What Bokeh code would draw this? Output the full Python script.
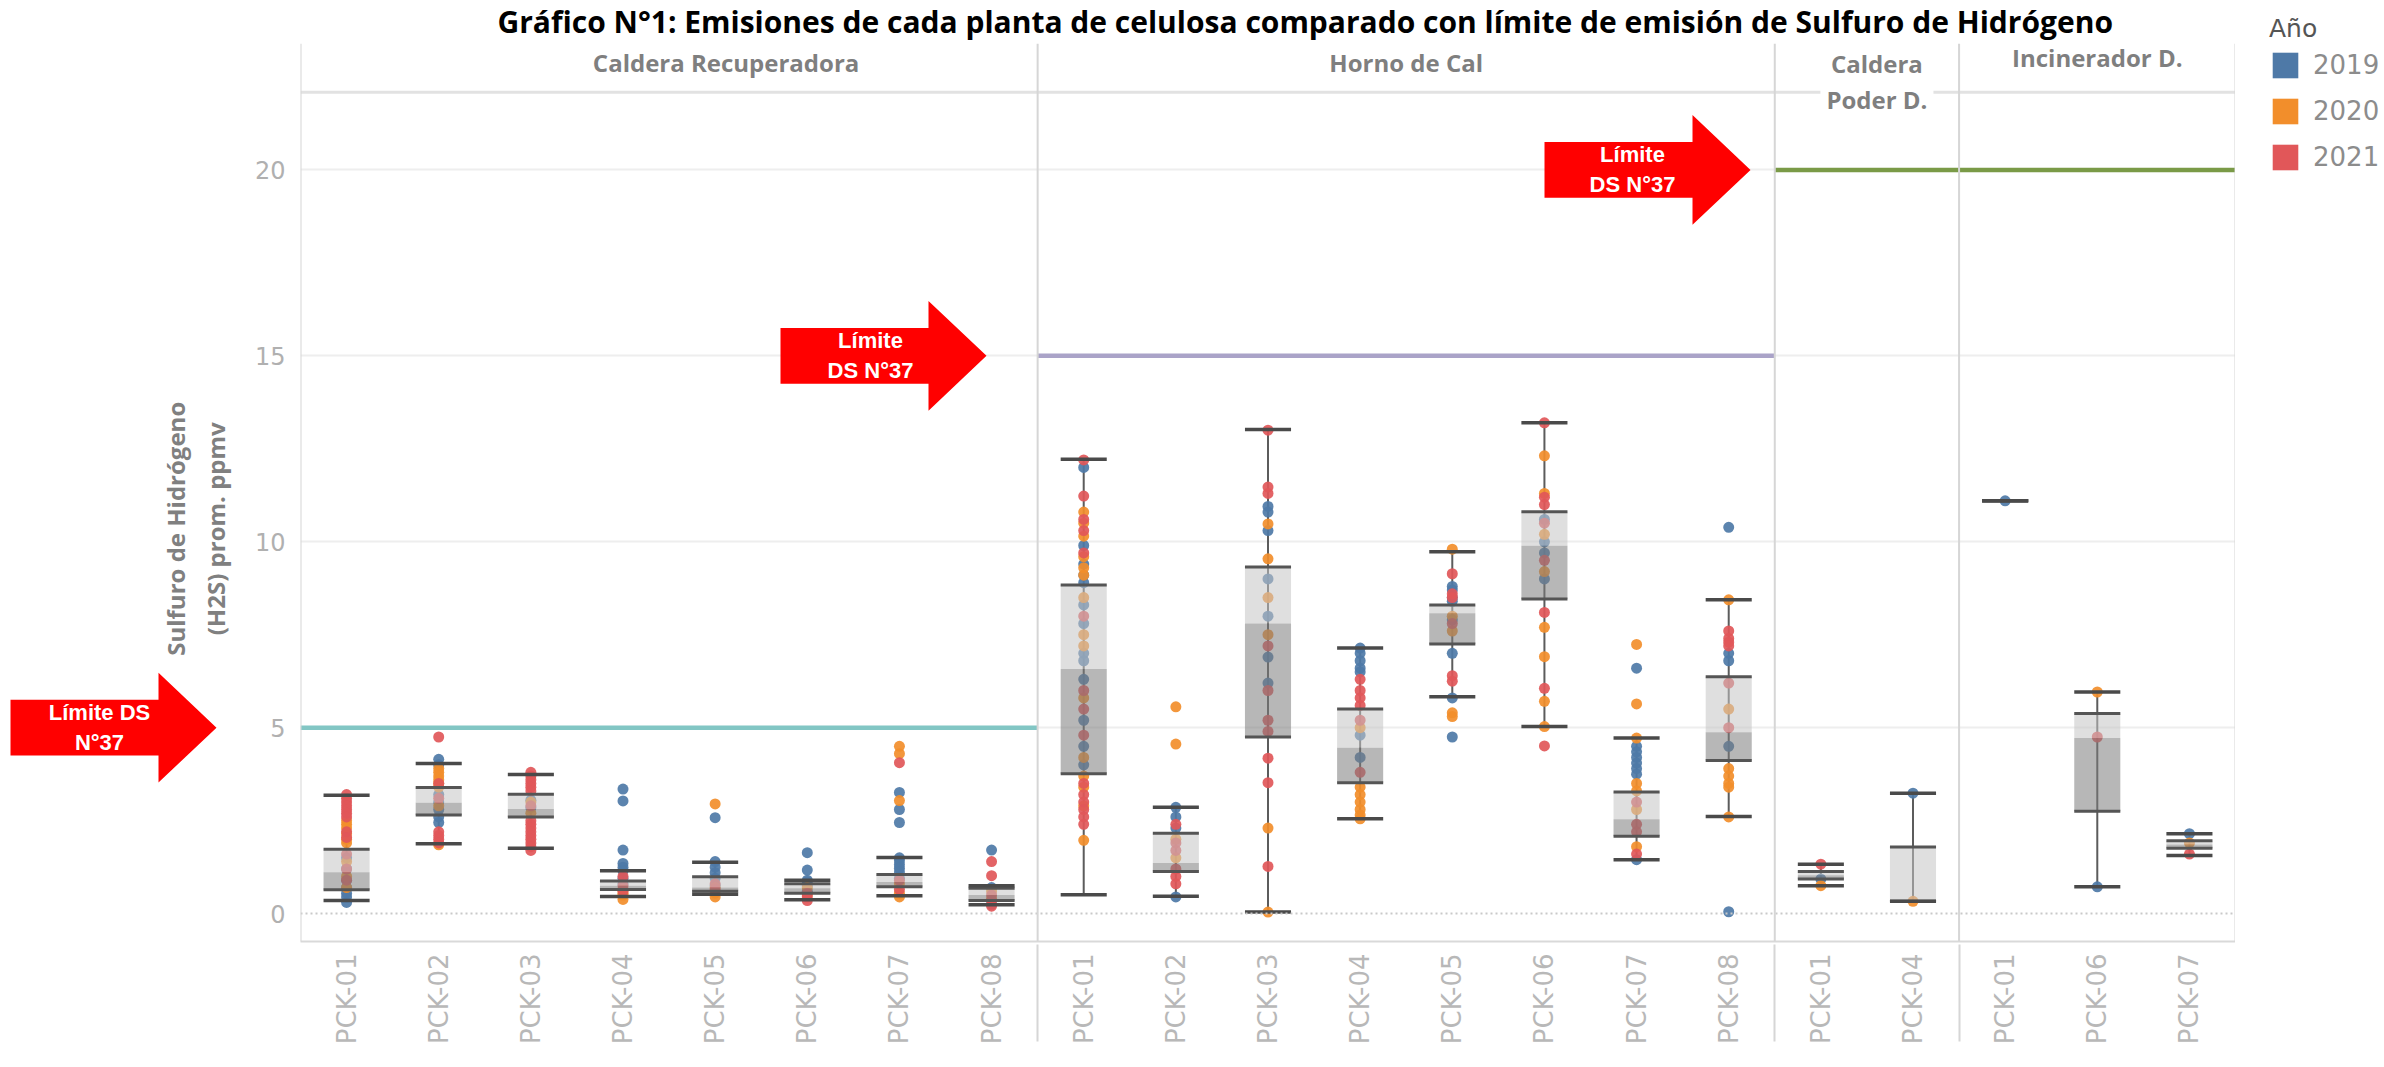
import math
from bokeh.plotting import figure
from bokeh.layouts import row
from bokeh.models import (FactorRange, Range1d, FixedTicker, Span, Label,
                          PolyAnnotation, Legend, LegendItem)
from bokeh.embed import file_html
from bokeh.resources import INLINE

# ---------------- data ----------------
TITLE = ("Gráfico N°1: Emisiones de cada planta de celulosa comparado con "
         "límite de emisión de Sulfuro de Hidrógeno")
Y_LABEL = "Sulfuro de Hidrógeno\n(H2S) prom. ppmv"

facets = ["Caldera Recuperadora", "Horno de Cal", "Caldera Poder D.", "Incinerador D."]
facet_titles = ["Caldera Recuperadora", "Horno de Cal", "Caldera\nPoder D.", "Incinerador D."]
facet_plants = [
    ["PCK-01", "PCK-02", "PCK-03", "PCK-04", "PCK-05", "PCK-06", "PCK-07", "PCK-08"],
    ["PCK-01", "PCK-02", "PCK-03", "PCK-04", "PCK-05", "PCK-06", "PCK-07", "PCK-08"],
    ["PCK-01", "PCK-04"],
    ["PCK-01", "PCK-06", "PCK-07"],
]
facet_limits = [5, 15, 20, 20]
limit_colors = ["#82c6c4", "#aaa3c8", "#7a9a47", "#7a9a47"]

years = ["2019", "2020", "2021"]
year_colors = ["#4e79a7", "#f28e2b", "#e15759"]

y_ticks = [0, 5, 10, 15, 20]

# box plot statistics (same order as the plants above)
whisker_low = [0.35, 1.88, 1.76, 0.46, 0.52, 0.37, 0.48, 0.24,
               0.51, 0.47, 0.04, 2.55, 5.83, 5.03, 1.45, 2.61,
               0.75, 0.33,
               11.1, 0.72, 1.56]
q1 = [0.64, 2.65, 2.60, 0.65, 0.60, 0.55, 0.72, 0.35,
      3.76, 1.13, 4.75, 3.52, 7.25, 8.46, 2.08, 4.12,
      0.93, 0.33,
      11.1, 2.75, 1.76]
median = [1.11, 2.98, 2.81, 0.75, 0.70, 0.68, 0.85, 0.50,
          6.58, 1.36, 7.80, 4.46, 8.08, 9.89, 2.54, 4.88,
          1.03, 0.33,
          11.1, 4.72, 1.86]
q3 = [1.73, 3.39, 3.21, 0.88, 0.99, 0.80, 1.05, 0.68,
      8.84, 2.16, 9.32, 5.50, 8.30, 10.81, 3.27, 6.37,
      1.13, 1.79,
      11.1, 5.38, 1.96]
whisker_high = [3.18, 4.04, 3.74, 1.15, 1.38, 0.90, 1.51, 0.75,
                12.22, 2.86, 13.02, 7.14, 9.73, 13.20, 4.72, 8.44,
                1.33, 3.24,
                11.1, 5.96, 2.15]

pts_2019 = [
    [0.3, 0.45, 0.55, 0.7, 0.9, 1.2, 1.5],
    [4.15, 4.0, 3.2, 3.0, 2.8, 2.6, 2.45],
    [2.85, 3.05],
    [3.35, 3.03, 1.71, 1.35, 1.25, 1.15, 0.95, 0.8],
    [2.58, 1.4, 1.25, 1.1, 0.95, 0.75],
    [1.64, 1.17, 0.9, 0.85, 0.75, 0.6],
    [3.26, 2.8, 2.45, 1.5, 1.42, 1.32, 1.22, 1.12, 0.95],
    [1.71, 0.7, 0.25],
    [12.0, 9.9, 9.4, 9.1, 8.9, 8.3, 7.8, 7.0, 6.8, 6.3, 5.2, 4.5, 4.0],
    [2.86, 2.6, 2.3, 0.45],
    [10.95, 10.8, 10.3, 9.0, 8.0, 6.9, 6.2],
    [7.14, 7.0, 6.8, 6.6, 6.5, 4.8, 4.2],
    [8.8, 8.7, 8.5, 8.4, 7.9, 7.0, 5.8, 4.75],
    [10.6, 10.0, 9.7, 9.0],
    [6.6, 4.5, 4.35, 4.2, 4.05, 3.9, 3.75, 1.45],
    [10.39, 7.0, 6.8, 4.5, 0.05],
    [0.93],
    [3.24],
    [11.1],
    [0.72],
    [2.15],
]
pts_2020 = [
    [2.5, 2.4, 2.3, 2.15, 2.0, 1.9, 1.4, 1.0, 0.7],
    [3.9, 3.8, 3.7, 3.6, 3.5, 3.4, 2.9, 1.85],
    [3.0, 2.7],
    [0.38, 0.5, 0.55, 0.65],
    [2.95, 0.45, 0.55, 0.7],
    [0.7, 0.5],
    [4.5, 4.3, 3.04, 0.45, 0.55, 0.8],
    [0.6, 0.4],
    [10.8, 10.5, 10.15, 9.6, 9.3, 9.1, 8.5, 7.5, 7.2, 5.8, 4.2, 3.7, 3.4, 2.9, 1.97],
    [5.56, 4.56, 1.5, 2.0],
    [10.48, 9.54, 8.5, 7.5, 2.3, 0.04],
    [5.0, 3.4, 3.2, 3.0, 2.8, 2.65, 2.55],
    [9.8, 8.0, 7.6, 5.4, 5.3],
    [12.31, 11.3, 10.2, 9.2, 7.7, 6.91, 5.71, 5.03],
    [7.24, 5.64, 4.72, 3.5, 3.3, 2.8, 1.8],
    [8.44, 5.5, 3.9, 3.7, 3.5, 3.4, 2.6],
    [0.75],
    [0.33],
    [],
    [5.96],
    [1.9],
]
pts_2021 = [
    [3.2, 3.1, 3.0, 2.9, 2.8, 2.7, 2.6, 2.2, 2.05, 1.6, 1.2, 0.9],
    [4.75, 3.5, 3.1, 2.2, 2.1, 2.0, 1.9],
    [3.8, 3.7, 3.6, 3.5, 3.4, 3.3, 2.9, 2.5, 2.4, 2.3, 2.2, 2.1, 2.0, 1.9, 1.8, 1.7],
    [1.0, 0.75, 0.6],
    [0.8, 0.65],
    [0.35, 0.45, 0.55],
    [4.06, 0.65, 0.9],
    [1.4, 1.02, 0.5, 0.35, 0.2],
    [12.2, 11.23, 10.6, 10.3, 9.7, 8.0, 6.0, 5.5, 4.8, 3.5, 3.2, 3.0, 2.8, 2.6, 2.4],
    [2.4, 1.9, 1.7, 1.2, 1.0, 0.8],
    [13.0, 11.47, 11.3, 7.2, 6.0, 5.2, 4.9, 4.18, 3.52, 1.27],
    [6.3, 6.0, 5.8, 5.6, 5.2, 3.8],
    [9.14, 8.6, 8.5, 7.8, 6.4, 6.25],
    [13.2, 11.2, 11.0, 10.5, 9.5, 8.1, 6.06, 4.51],
    [3.0, 2.4, 2.2, 1.6],
    [7.6, 7.4, 7.3, 7.2, 6.2, 5.0],
    [1.33],
    [],
    [],
    [4.75],
    [1.6],
]

arrow_limits = [5, 15, 20]
arrow_texts = ["Límite DS\nN°37", "Límite\nDS N°37", "Límite\nDS N°37"]

# ---------------- layout / style ----------------
H = 1064
LEFT_W, MAIN_W, RIGHT_W = 250, 1985, 145
B_LEFT, B_TOP, B_BOTTOM = 50, 40, 123
Y0, Y1 = -0.75, 23.4
HEADER_Y = 22.09
frame_h = H - B_TOP - B_BOTTOM
ppu = frame_h / (Y1 - Y0)
y_range = Range1d(Y0, Y1)

# main-figure canvas x of arrow tips / texts (px)
arrow_tip_x = [None, 736, 1500]
arrow_text_x = [None, 620, 1382]
header_y_canvas = [62, 62, 81, 57]
header_dx = [57, 0, 10, 0]

factors = [(f, c) for f, plants in zip(facets, facet_plants) for c in plants]

xr = FactorRange(factors=factors, factor_padding=0, group_padding=0, range_padding=0)
p = figure(width=MAIN_W, height=H, x_range=xr, y_range=y_range,
           output_backend="svg", toolbar_location=None,
           min_border_left=B_LEFT, min_border_right=0,
           min_border_top=B_TOP, min_border_bottom=B_BOTTOM)
p.outline_line_color = None
p.background_fill_color = "white"
p.border_fill_color = "white"

# title
p.title.text = TITLE
p.title.align = "left"
p.title.offset = 197
p.title.standoff = 0
p.title.vertical_align = "top"
p.title.text_font = "Open Sans"
p.title.text_font_style = "bold"
p.title.text_font_size = "30px"
p.title.text_color = "#000000"

# grid
p.xgrid.visible = False
p.ygrid.ticker = FixedTicker(ticks=y_ticks[1:])
p.ygrid.grid_line_color = "#eeeeee"
p.ygrid.grid_line_width = 2

# y axis
p.yaxis.ticker = FixedTicker(ticks=y_ticks)
p.yaxis.axis_line_color = None
p.yaxis.major_tick_line_color = None
p.yaxis.minor_tick_line_color = None
p.yaxis.major_tick_out = 0
p.yaxis.major_label_standoff = 15
p.yaxis.major_label_text_font = "DejaVu Sans"
p.yaxis.major_label_text_font_size = "24px"
p.yaxis.major_label_text_color = "#b0b0b0"

# x axis
p.xaxis.major_label_orientation = math.pi / 2
p.xaxis.major_label_text_font = "DejaVu Sans"
p.xaxis.major_label_text_font_size = "26px"
p.xaxis.major_label_text_color = "#b8b8b8"
p.xaxis.major_label_standoff = 12
p.xaxis.major_tick_line_color = None
p.xaxis.major_tick_out = 0
p.xaxis.axis_line_color = "#d9d9d9"
p.xaxis.axis_line_width = 2
p.xaxis.group_text_font_size = "1px"
p.xaxis.group_text_alpha = 0
p.xaxis.separator_line_color = "#d6d6d6"
p.xaxis.separator_line_width = 2

# facet geometry from the data
bounds = [0]
for plants in facet_plants:
    bounds.append(bounds[-1] + len(plants))

p.add_layout(Span(location=0, dimension="width", line_color="#c9c9c9",
                  line_dash="2 3", line_width=2))
p.add_layout(Span(location=HEADER_Y, dimension="width", line_color="#e2e2e2",
                  line_width=3))
for b in bounds:
    p.add_layout(Span(location=b, dimension="height", line_color="#d6d6d6",
                      line_width=2))

# limit lines per facet
p.segment(x0=bounds[:-1], x1=bounds[1:], y0=facet_limits, y1=facet_limits,
          line_color=limit_colors, line_width=4.5)

# whiskers
p.segment(x0=factors, x1=factors, y0=whisker_low, y1=whisker_high,
          line_color="#5c5c5c", line_width=2)

# points
for yr_pts, col in zip([pts_2019, pts_2020, pts_2021], year_colors):
    xs = [factors[i] for i, vals in enumerate(yr_pts) for _ in vals]
    ys = [v for vals in yr_pts for v in vals]
    p.scatter(x=xs, y=ys, size=11, fill_color=col, line_color=None, fill_alpha=0.92)

# boxes (drawn over the points, translucent)
p.vbar(x=factors, top=q3, bottom=median, width=0.5, fill_color="#c4c4c4",
       fill_alpha=0.55, line_color=None)
p.vbar(x=factors, top=median, bottom=q1, width=0.5, fill_color="#7c7c7c",
       fill_alpha=0.55, line_color=None)

half = 0.25
qx0 = [(*f, -half) for f in factors] * 2
qx1 = [(*f, half) for f in factors] * 2
p.segment(x0=qx0, x1=qx1, y0=q1 + q3, y1=q1 + q3, line_color="#555555", line_width=3)
p.segment(x0=qx0, x1=qx1, y0=whisker_low + whisker_high, y1=whisker_low + whisker_high,
          line_color="#4a4a4a", line_width=3.5)

# facet headers
for i, txt in enumerate(facet_titles):
    p.add_layout(Label(x=(bounds[i] + bounds[i + 1]) / 2, y=header_y_canvas[i],
                       x_units="data", y_units="canvas", x_offset=header_dx[i],
                       text=txt, text_align="center", text_baseline="middle",
                       text_font="Open Sans", text_font_style="bold",
                       text_font_size="24px", text_color="#7f7f7f",
                       text_line_height=1.1,
                       background_fill_color="white", padding=6))

# red arrows
bh, hh = 28 / ppu, 55 / ppu


def arrow_shape(tip, lim):
    xs = [tip - 206, tip - 58, tip - 58, tip, tip - 58, tip - 58, tip - 206]
    ys = [lim + bh, lim + bh, lim + hh, lim, lim - hh, lim - bh, lim - bh]
    return xs, ys


def arrow_text(fig, x, x_units, lim, txt):
    fig.add_layout(Label(x=x, y=lim, x_units=x_units, y_units="data", text=txt,
                         text_align="center", text_baseline="middle",
                         text_font="Liberation Sans", text_font_style="bold",
                         text_font_size="22px", text_color="white",
                         text_line_height=1.2))


for k in (1, 2):
    xs, ys = arrow_shape(arrow_tip_x[k], arrow_limits[k])
    p.add_layout(PolyAnnotation(xs=xs, ys=ys, xs_units="canvas", ys_units="data",
                                fill_color="#ff0000", fill_alpha=1.0, line_color=None))
    arrow_text(p, arrow_text_x[k], "canvas", arrow_limits[k], arrow_texts[k])

# ---------------- left strip: y-axis title and first arrow ----------------
pl = figure(width=LEFT_W, height=H, x_range=Range1d(0, LEFT_W), y_range=y_range,
            title=None, output_backend="svg", toolbar_location=None,
            x_axis_type=None, y_axis_type=None,
            min_border_left=0, min_border_right=0,
            min_border_top=B_TOP, min_border_bottom=B_BOTTOM)
pl.outline_line_color = None
pl.grid.visible = False
xs, ys = arrow_shape(216, arrow_limits[0])
pl.patch(x=xs, y=ys, fill_color="#ff0000", line_color=None)
arrow_text(pl, 99, "data", arrow_limits[0], arrow_texts[0])
pl.add_layout(Label(x=195, y=10.35, text=Y_LABEL, angle=math.pi / 2,
                    text_align="center", text_baseline="middle",
                    text_font="Open Sans", text_font_style="bold",
                    text_font_size="24px", text_color="#808080",
                    text_line_height=1.2))

# ---------------- right strip: legend ----------------
pr = figure(width=RIGHT_W, height=H, x_range=Range1d(0, 1), y_range=Range1d(0, 1),
            title=None, output_backend="svg", toolbar_location=None,
            x_axis_type=None, y_axis_type=None,
            min_border_left=20, min_border_right=0, min_border_top=0, min_border_bottom=0)
try:
    pr.frame_align = False
except Exception:
    pass
pr.outline_line_color = None
pr.grid.visible = False
items = []
for yr, col in zip(years, year_colors):
    r = pr.quad(left=[0], right=[0], top=[0], bottom=[0], fill_color=col, line_color=None)
    items.append(LegendItem(label=yr, renderers=[r]))
legend = Legend(items=items, title="Año", location="top_left",
                glyph_width=32, glyph_height=32, label_height=32,
                label_standoff=12, spacing=14, padding=0, margin=14,
                label_text_font="DejaVu Sans", label_text_font_size="26px",
                label_text_color="#8c8c8c",
                title_text_font="DejaVu Sans", title_text_font_size="25px",
                title_text_color="#555555", title_text_font_style="normal",
                title_standoff=6, border_line_color=None,
                background_fill_alpha=0)
pr.add_layout(legend)

layout = row(pl, p, pr, spacing=0)
open("out.html", "w").write(file_html(layout, INLINE))
